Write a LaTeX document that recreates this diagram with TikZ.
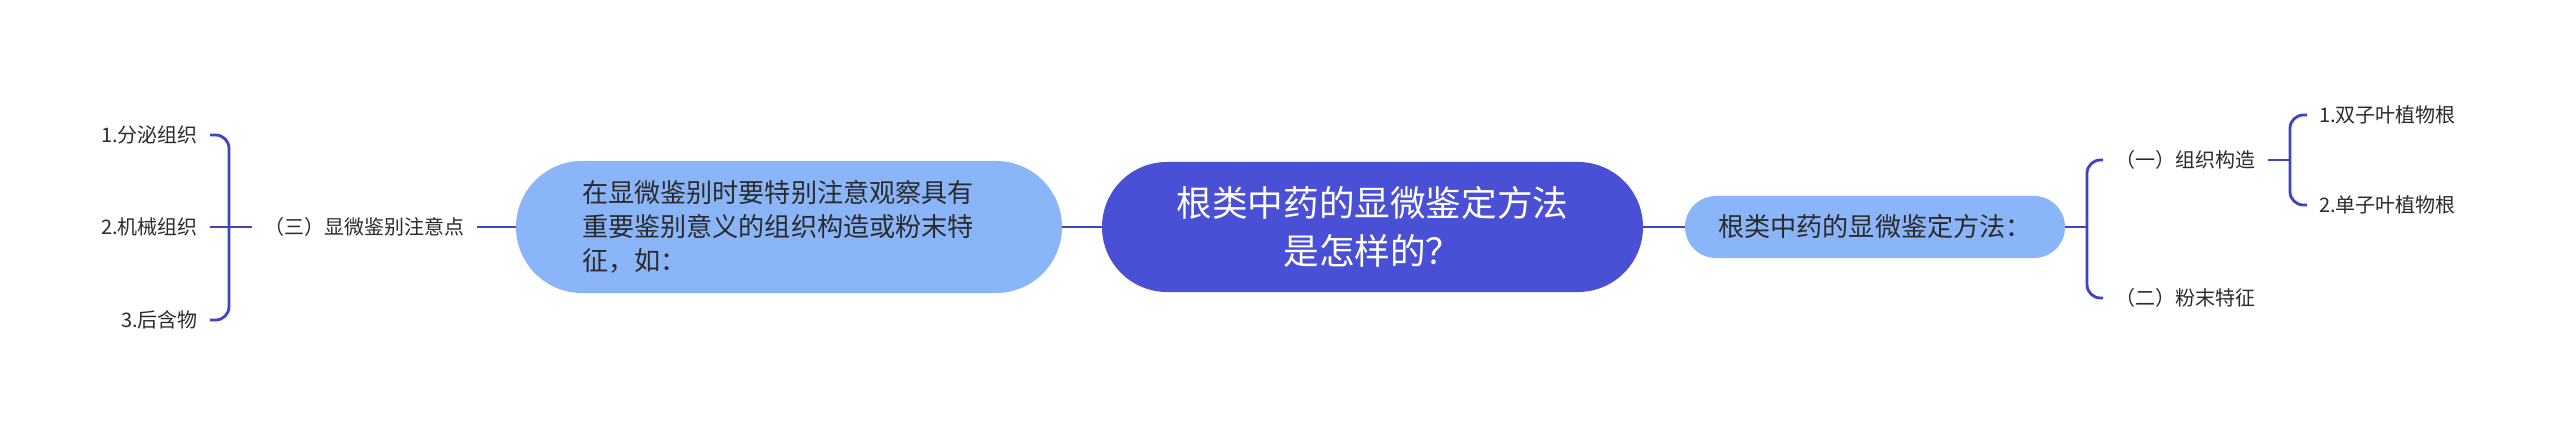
\documentclass[tikz,border=0pt]{standalone}
\usepackage{fontspec}
\setmainfont{Noto Sans CJK SC}
\definecolor{rootc}{HTML}{4A50D5}
\definecolor{subc}{HTML}{8BB5F9}
\definecolor{linec}{HTML}{3E44C0}
\definecolor{txtc}{HTML}{2B2B2B}
\begin{document}
\begin{tikzpicture}[x=0.75pt,y=-0.75pt,
  rootbox/.style={fill=rootc, text=white, rounded corners=48.75pt, minimum width=405.75pt, minimum height=97.5pt, inner sep=0pt, align=center, font=\fontsize{26.7pt}{36pt}\selectfont},
  subbox/.style={fill=subc, text=txtc, inner sep=0pt, font=\fontsize{19.6pt}{25.5pt}\selectfont},
  lab/.style={text=txtc, inner xsep=9pt, inner ysep=1pt, font=\fontsize{15pt}{18pt}\selectfont},
  conn/.style={draw=linec, line width=2.1pt},
  bracket/.style={conn, rounded corners=10pt}]
\fill[white] (0,0) rectangle (2560,431);
\useasboundingbox (0,0) rectangle (2560,431);

% main nodes
\node[rootbox] (root) at (1372.5,227) {根类中药的显微鉴定方法\\是怎样的？};
\node[subbox, rounded corners=49.5pt, minimum width=409.5pt, minimum height=99pt, text width=310.5pt, align=left] (lnode) at (789,227) {在显微鉴别时要特别注意观察具有\\重要鉴别意义的组织构造或粉末特\\征，如：};
\node[subbox, rounded corners=23.25pt, minimum width=285pt, minimum height=46.5pt, align=center] (rnode) at (1875,227) {根类中药的显微鉴定方法：};

% left branch
\node[lab, anchor=east] (lab3) at (477,227) {（三）显微鉴别注意点};
\node[lab, anchor=east] (a1) at (210,135) {1.分泌组织};
\node[lab, anchor=east] (a2) at (210,227) {2.机械组织};
\node[lab, anchor=east] (a3) at (210,320) {3.后含物};

% right branch
\node[lab, anchor=west] (b1) at (2103,160) {（一）组织构造};
\node[lab, anchor=west] (b2) at (2103,298) {（二）粉末特征};
\node[lab, anchor=west] (c1) at (2307,115) {1.双子叶植物根};
\node[lab, anchor=west] (c2) at (2307,205) {2.单子叶植物根};

% connectors
\draw[conn] (lnode.east) -- (root.west);
\draw[conn] (root.east) -- (rnode.west);
\draw[conn] (lab3.east) -- (lnode.west);

\coordinate (bl) at (229,227);
\draw[conn] (lab3.west) -- (bl);
\draw[conn] (a2.east) -- (bl);
\draw[bracket] (a1.east) -| (bl) |- (a3.east);

\coordinate (br) at (2087,227);
\draw[conn] (rnode.east) -- (br);
\draw[bracket] (b1.west) -| (br) |- (b2.west);

\coordinate (bt) at (2290,160);
\draw[conn] (b1.east) -- (bt);
\draw[bracket] (c1.west) -| (bt) |- (c2.west);
\end{tikzpicture}
\end{document}
